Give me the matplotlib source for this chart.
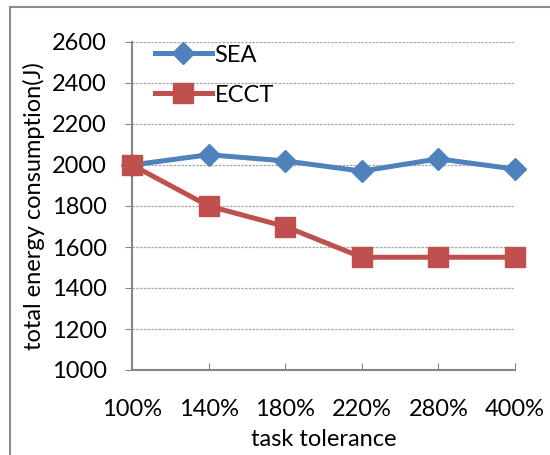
import matplotlib
matplotlib.use("Agg")
import matplotlib.pyplot as plt
from matplotlib.lines import Line2D

categories = ["100%", "140%", "180%", "220%", "280%", "400%"]
sea = [2000, 2050, 2020, 1970, 2030, 1980]
ecct = [2000, 1800, 1700, 1550, 1550, 1550]
yticks = [1000, 1200, 1400, 1600, 1800, 2000, 2200, 2400, 2600]

plt.rcParams['font.family'] = ['Lato', 'DejaVu Sans']
FS = 17

fig = plt.figure(figsize=(5.5, 4.55), dpi=100)
ax = fig.add_axes([132/550, 1-370/455, (515-132)/550, (370-42)/455])

x = list(range(len(categories)))
ax.plot(x, sea, color='#4F81BD', lw=3.6, marker='D', markersize=11.5, label='SEA',
        solid_joinstyle='round', clip_on=False, zorder=3)
ax.plot(x, ecct, color='#C0504D', lw=3.6, marker='s', markersize=14.5, label='ECCT',
        solid_joinstyle='round', clip_on=False, zorder=4)

ax.set_xlim(0, len(categories)-1)
ax.set_ylim(1000, 2600)
ax.set_yticks(yticks)
ax.set_xticks(x)
ax.set_xticklabels(categories)
ax.tick_params(axis='both', labelsize=FS, colors='#868686', labelcolor='black')
ax.tick_params(axis='x', direction='in', length=5, pad=21)
ax.tick_params(axis='y', direction='out', length=5, pad=13)
for s in ['top', 'right']:
    ax.spines[s].set_visible(False)
for s in ['left', 'bottom']:
    ax.spines[s].set_color('#868686')
    ax.spines[s].set_linewidth(1.5)
ax.grid(axis='y', color='#A6A6A6', linestyle=(0, (2, 1)), linewidth=0.9)
ax.set_axisbelow(True)
ax.get_ygridlines()[0].set_visible(False)

ax.set_xlabel('task tolerance', fontsize=FS, labelpad=6)
ax.set_ylabel('total energy consumption(J)', fontsize=FS, labelpad=5)

leg = ax.legend(loc='upper left', bbox_to_anchor=(0.06, 0.992), frameon=False, fontsize=FS,
                handlelength=2.4, handletextpad=0.12, labelspacing=0.8,
                borderaxespad=0, borderpad=0)

fig.add_artist(Line2D([10/550, 1], [1-7/455, 1-7/455], color='#8C8C8C', lw=1.5))
fig.add_artist(Line2D([10/550, 10/550], [0, 1-7/455], color='#8C8C8C', lw=1.5))

fig.savefig('out.png', dpi=100)
